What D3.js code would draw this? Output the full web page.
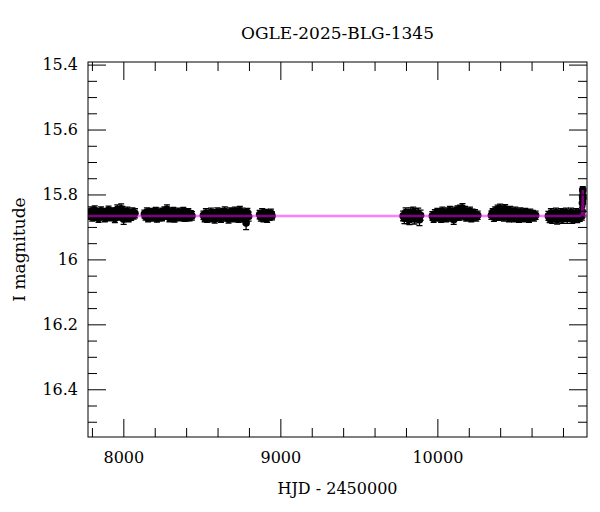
<!DOCTYPE html>
<html>
<head>
<meta charset="utf-8">
<script src="https://cdn.jsdelivr.net/npm/d3@7"></script>
<style>
	body { margin: 0; background: #fff; }
	text { font-family: "DejaVu Serif", serif; fill: #000; }
</style>
</head>
<body>
<script>
//photometry per observing season: [HJD - 2450000, I mag, error]
var season1 = [[7778,15.858,0.013],[7786,15.866,0.011],[7794,15.852,0.014],[7802,15.870,0.012],[7810,15.860,0.011],[7818,15.848,0.013],[7826,15.868,0.012],[7834,15.856,0.010],[7842,15.874,0.012],[7850,15.862,0.013],[7858,15.850,0.012],[7866,15.866,0.011],[7874,15.858,0.014],[7882,15.872,0.012],[7890,15.854,0.011],[7898,15.864,0.013],[7906,15.848,0.012],[7914,15.870,0.011],[7922,15.858,0.013],[7930,15.866,0.012],[7938,15.852,0.011],[7946,15.874,0.013],[7954,15.860,0.012],[7962,15.846,0.014],[7970,15.868,0.011],[7978,15.856,0.012],[7986,15.844,0.015],[7994,15.850,0.013],[8002,15.876,0.016],[8010,15.858,0.012],[8018,15.866,0.011],[8026,15.852,0.013],[8034,15.872,0.012],[8042,15.860,0.011],[8050,15.868,0.012],[8058,15.854,0.013],[8066,15.864,0.012],[8074,15.858,0.014]];
var season2 = [[8134,15.860,0.012],[8142,15.868,0.011],[8150,15.854,0.013],[8158,15.872,0.012],[8166,15.862,0.011],[8174,15.856,0.013],[8182,15.870,0.012],[8190,15.858,0.011],[8198,15.866,0.013],[8206,15.852,0.012],[8214,15.874,0.011],[8222,15.860,0.012],[8230,15.868,0.013],[8238,15.854,0.012],[8246,15.870,0.011],[8254,15.858,0.013],[8262,15.850,0.012],[8270,15.866,0.011],[8278,15.846,0.014],[8286,15.862,0.013],[8294,15.872,0.012],[8302,15.856,0.011],[8310,15.868,0.013],[8318,15.852,0.012],[8326,15.874,0.011],[8334,15.860,0.012],[8342,15.866,0.013],[8350,15.854,0.012],[8358,15.870,0.011],[8366,15.858,0.012],[8374,15.864,0.013],[8382,15.852,0.012],[8390,15.872,0.011],[8398,15.860,0.012],[8406,15.868,0.013],[8414,15.856,0.012],[8422,15.870,0.011],[8430,15.862,0.012],[8437,15.866,0.013]];
var season3 = [[8510,15.864,0.013],[8518,15.872,0.012],[8526,15.858,0.014],[8534,15.874,0.012],[8542,15.862,0.013],[8550,15.868,0.011],[8558,15.856,0.014],[8566,15.872,0.012],[8574,15.860,0.013],[8582,15.876,0.012],[8590,15.864,0.011],[8598,15.854,0.013],[8606,15.870,0.012],[8614,15.860,0.014],[8622,15.874,0.012],[8630,15.856,0.013],[8638,15.866,0.011],[8646,15.852,0.014],[8654,15.870,0.012],[8662,15.860,0.013],[8670,15.876,0.012],[8678,15.854,0.013],[8686,15.866,0.011],[8694,15.858,0.014],[8702,15.872,0.012],[8710,15.852,0.013],[8718,15.868,0.012],[8726,15.856,0.014],[8734,15.874,0.012],[8742,15.850,0.013],[8750,15.866,0.012],[8758,15.856,0.014],[8766,15.872,0.012],[8774,15.860,0.013],[8782,15.888,0.020],[8790,15.856,0.013],[8798,15.868,0.014]];
var season4 = [[8868,15.862,0.013],[8876,15.870,0.012],[8884,15.858,0.014],[8892,15.872,0.012],[8900,15.864,0.013],[8908,15.860,0.014],[8916,15.874,0.012],[8924,15.862,0.013],[8932,15.868,0.012],[8940,15.858,0.013],[8947,15.866,0.012]];
var season5 = [[9782,15.866,0.015],[9790,15.874,0.016],[9798,15.856,0.015],[9806,15.872,0.018],[9814,15.862,0.016],[9822,15.878,0.015],[9830,15.858,0.017],[9838,15.868,0.016],[9846,15.854,0.015],[9854,15.874,0.017],[9862,15.860,0.016],[9870,15.870,0.015],[9878,15.858,0.016],[9886,15.878,0.018],[9893,15.864,0.016]];
var season6 = [[9968,15.866,0.013],[9976,15.874,0.012],[9984,15.860,0.013],[9992,15.870,0.012],[10000,15.856,0.013],[10008,15.868,0.012],[10016,15.858,0.013],[10024,15.874,0.012],[10032,15.852,0.013],[10040,15.866,0.012],[10048,15.858,0.013],[10056,15.872,0.012],[10064,15.854,0.013],[10072,15.866,0.012],[10080,15.850,0.013],[10088,15.870,0.012],[10096,15.858,0.013],[10104,15.878,0.014],[10112,15.852,0.013],[10120,15.866,0.012],[10128,15.848,0.013],[10136,15.868,0.012],[10144,15.846,0.013],[10152,15.860,0.012],[10160,15.842,0.014],[10168,15.866,0.012],[10176,15.850,0.013],[10184,15.870,0.012],[10192,15.856,0.013],[10200,15.866,0.012],[10208,15.852,0.013],[10216,15.872,0.012],[10224,15.858,0.013],[10232,15.868,0.012],[10240,15.860,0.013],[10248,15.870,0.012],[10257,15.864,0.013]];
var season7 = [[10344,15.864,0.013],[10352,15.856,0.012],[10360,15.870,0.013],[10368,15.850,0.012],[10376,15.866,0.013],[10384,15.846,0.013],[10392,15.868,0.012],[10400,15.844,0.014],[10408,15.862,0.012],[10416,15.848,0.013],[10424,15.870,0.012],[10432,15.844,0.013],[10440,15.864,0.012],[10448,15.852,0.013],[10456,15.872,0.012],[10464,15.850,0.013],[10472,15.866,0.012],[10480,15.856,0.013],[10488,15.872,0.012],[10496,15.852,0.013],[10504,15.868,0.012],[10512,15.858,0.013],[10520,15.874,0.012],[10528,15.854,0.013],[10536,15.866,0.012],[10544,15.858,0.013],[10552,15.872,0.012],[10560,15.856,0.013],[10568,15.868,0.012],[10576,15.860,0.013],[10584,15.874,0.012],[10592,15.858,0.013],[10600,15.866,0.012],[10608,15.862,0.013],[10616,15.870,0.012],[10626,15.864,0.013]];
var season8 = [[10707,15.866,0.014],[10715,15.874,0.013],[10723,15.858,0.014],[10731,15.876,0.013],[10739,15.862,0.014],[10747,15.870,0.013],[10755,15.856,0.014],[10763,15.878,0.013],[10771,15.862,0.014],[10779,15.868,0.013],[10787,15.858,0.014],[10795,15.876,0.013],[10803,15.860,0.014],[10811,15.870,0.013],[10819,15.856,0.014],[10827,15.874,0.015],[10835,15.862,0.014],[10843,15.870,0.013],[10851,15.856,0.014],[10859,15.876,0.013],[10867,15.862,0.014],[10875,15.872,0.013],[10883,15.858,0.014],[10891,15.874,0.013],[10899,15.862,0.014],[10907,15.870,0.013],[10914,15.860,0.014],[10920,15.866,0.013]];
var eventPoints = [[10922,15.852,0.012],[10924,15.826,0.011],[10925,15.805,0.011],[10926,15.786,0.010],[10927,15.812,0.011]];

//model light curve
var modelHjd = [7775, 10900, 10915, 10920, 10923, 10925, 10926, 10927, 10929, 10932, 10940, 10953];
var modelMag = [15.866, 15.866, 15.865, 15.862, 15.850, 15.820, 15.786, 15.810, 15.850, 15.863, 15.866, 15.866];

//ticks
var xMajor = [8000, 9000, 10000];
var xMinor = [7800, 8200, 8400, 8600, 8800, 9200, 9400, 9600, 9800, 10200, 10400, 10600, 10800];
var yMajor = [15.4, 15.6, 15.8, 16.0, 16.2, 16.4];
var yMinor = [15.45, 15.5, 15.55, 15.65, 15.7, 15.75, 15.85, 15.9, 15.95, 16.05, 16.1, 16.15, 16.25, 16.3, 16.35, 16.45, 16.5];

var titleText = "OGLE-2025-BLG-1345";
var xTitle = "HJD - 2450000";
var yTitle = "I magnitude";

drawChart();

function drawChart(){

	var w = 600, h = 512;
	var pLeft = 88, pRight = 587, pTop = 62, pBottom = 437;

	var svg = d3.select("body")
		.append("svg")
		.attr("width", w)
		.attr("height", h);

	var x = d3.scaleLinear()
		.domain([7775, 10953])
		.range([pLeft, pRight]);

	//magnitudes grow downward
	var y = d3.scaleLinear()
		.domain([15.392, 16.547])
		.range([pTop, pBottom]);

	var data = season1.concat(season2, season3, season4, season5, season6, season7, season8, eventPoints);

	svg.append("clipPath")
		.attr("id", "clip")
		.append("rect")
		.attr("x", pLeft)
		.attr("y", pTop)
		.attr("width", pRight - pLeft)
		.attr("height", pBottom - pTop);

	var plot = svg.append("g")
		.attr("clip-path", "url(#clip)");

	//error bars
	plot.selectAll(".err")
		.data(data)
		.enter()
		.append("path")
		.attr("class", "err")
		.attr("d", function(d){
			var cx = x(d[0]), y1 = y(d[1] - d[2]), y2 = y(d[1] + d[2]);
			return "M" + cx + "," + y1 + "V" + y2 +
				"M" + (cx - 3) + "," + y1 + "H" + (cx + 3) +
				"M" + (cx - 3) + "," + y2 + "H" + (cx + 3);
		})
		.style("stroke", "#000")
		.style("stroke-width", 1.3)
		.style("fill", "none");

	//points
	plot.selectAll(".pt")
		.data(data)
		.enter()
		.append("circle")
		.attr("class", "pt")
		.attr("cx", function(d){ return x(d[0]); })
		.attr("cy", function(d){ return y(d[1]); })
		.attr("r", 3.8)
		.style("fill", "#000");

	//model line on top
	var line = d3.line()
		.x(function(d){ return x(d[0]); })
		.y(function(d){ return y(d[1]); });

	plot.append("path")
		.datum(d3.zip(modelHjd, modelMag))
		.attr("d", line)
		.style("fill", "none")
		.style("stroke", "#ff00ff")
		.style("stroke-opacity", 0.5)
		.style("stroke-width", 2.5);

	//axes with inward ticks on all four sides
	function styleAxis(g){
		g.select(".domain").remove();
		g.selectAll("line").style("stroke", "#000");
		g.selectAll("text").style("font-family", "DejaVu Serif").style("font-size", "16px").style("fill", "#000");
	}

	var fmtY = function(d){ return String(+d.toFixed(1)); };

	svg.append("g").attr("transform", "translate(0," + pBottom + ")")
		.call(d3.axisBottom(x).tickValues(xMajor).tickSize(-18).tickPadding(15).tickFormat(d3.format("d")))
		.call(styleAxis);
	svg.append("g").attr("transform", "translate(0," + pBottom + ")")
		.call(d3.axisBottom(x).tickValues(xMinor).tickSize(-9).tickFormat(""))
		.call(styleAxis);
	svg.append("g").attr("transform", "translate(0," + pTop + ")")
		.call(d3.axisTop(x).tickValues(xMajor).tickSize(-18).tickFormat(""))
		.call(styleAxis);
	svg.append("g").attr("transform", "translate(0," + pTop + ")")
		.call(d3.axisTop(x).tickValues(xMinor).tickSize(-9).tickFormat(""))
		.call(styleAxis);

	svg.append("g").attr("transform", "translate(" + pLeft + ",0)")
		.call(d3.axisLeft(y).tickValues(yMajor).tickSize(-18).tickPadding(10).tickFormat(fmtY))
		.call(styleAxis);
	svg.append("g").attr("transform", "translate(" + pLeft + ",0)")
		.call(d3.axisLeft(y).tickValues(yMinor).tickSize(-9).tickFormat(""))
		.call(styleAxis);
	svg.append("g").attr("transform", "translate(" + pRight + ",0)")
		.call(d3.axisRight(y).tickValues(yMajor).tickSize(-18).tickFormat(""))
		.call(styleAxis);
	svg.append("g").attr("transform", "translate(" + pRight + ",0)")
		.call(d3.axisRight(y).tickValues(yMinor).tickSize(-9).tickFormat(""))
		.call(styleAxis);

	//frame
	svg.append("rect")
		.attr("x", pLeft)
		.attr("y", pTop)
		.attr("width", pRight - pLeft)
		.attr("height", pBottom - pTop)
		.style("fill", "none")
		.style("stroke", "#000")
		.style("stroke-width", 1);

	//titles
	svg.append("text")
		.attr("x", (pLeft + pRight) / 2)
		.attr("y", 39)
		.attr("text-anchor", "middle")
		.style("font-size", "17px")
		.text(titleText);

	svg.append("text")
		.attr("x", (pLeft + pRight) / 2)
		.attr("y", 494)
		.attr("text-anchor", "middle")
		.style("font-size", "16px")
		.text(xTitle);

	svg.append("text")
		.attr("transform", "translate(25," + ((pTop + pBottom) / 2) + ") rotate(-90)")
		.attr("text-anchor", "middle")
		.style("font-size", "17px")
		.text(yTitle);
}
</script>
</body>
</html>
